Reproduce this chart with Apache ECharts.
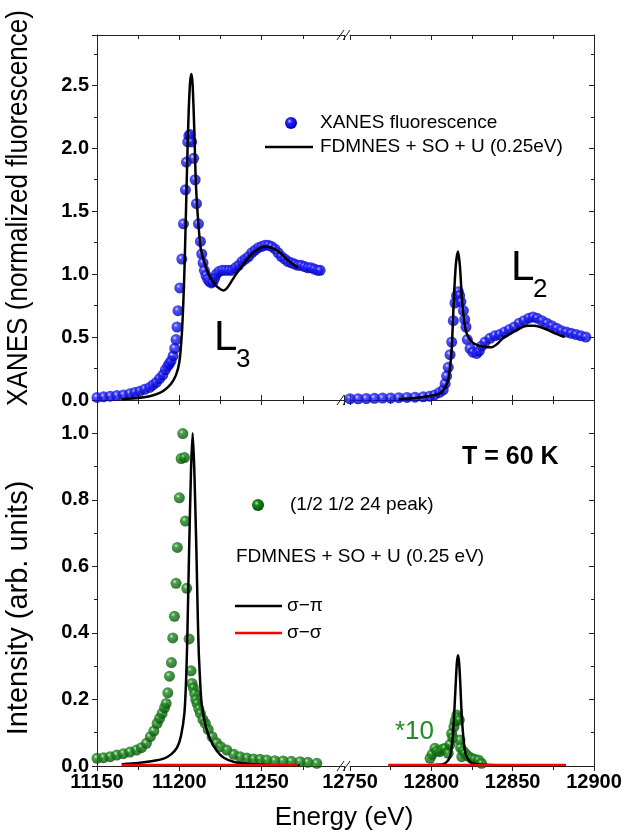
<!DOCTYPE html>
<html>
<head>
<meta charset="utf-8">
<script src="https://cdn.jsdelivr.net/npm/echarts@6/dist/echarts.min.js"></script>
<style>
  html, body { margin: 0; padding: 0; background: #fff; }
  #main { width: 633px; height: 834px; }
</style>
</head>
<body>
<div id="main"></div>
<script>
// ---- data: [energy (eV), value] ----
var xanesL3 = [
  [11150,0.02],[11154,0.025],[11158,0.03],[11162,0.035],[11166,0.04],[11170,0.05],[11173,0.06],
  [11176,0.07],[11179,0.085],[11182,0.10],[11184,0.12],[11186,0.14],[11188,0.17],[11190,0.20],
  [11191.5,0.24],[11193,0.27],[11194,0.29],[11195,0.31],[11196.2,0.35],[11197.2,0.41],[11198,0.48],
  [11198.6,0.58],[11199.2,0.71],[11200.3,0.89],[11201.5,1.12],[11202.5,1.40],[11203.7,1.67],
  [11204.3,1.89],[11205.1,2.05],[11205.8,2.10],[11206.5,2.11],[11207.5,2.05],[11208.7,1.92],
  [11209.6,1.75],[11210.4,1.56],[11211.6,1.40],[11212.8,1.26],[11213.6,1.16],[11214.4,1.09],
  [11215.2,1.03],[11216.2,0.99],[11217.2,0.96],[11218.3,0.94],[11219.5,0.93],[11220.5,0.94],
  [11221.5,0.97],[11222.5,1.00],[11224,1.02],[11226,1.03],[11228,1.03],[11230,1.03],[11232,1.03],
  [11234,1.05],[11236,1.07],[11238,1.10],[11240,1.12],[11242,1.14],[11244,1.17],[11246,1.19],
  [11248,1.21],[11250,1.22],[11252,1.23],[11254,1.23],[11256,1.22],[11258,1.20],[11260,1.17],
  [11262,1.14],[11264,1.12],[11266,1.10],[11268,1.09],[11270,1.08],[11272,1.07],[11274,1.07],
  [11276,1.06],[11278,1.05],[11280,1.05],[11282,1.04],[11284,1.03],[11285.5,1.03]
];
var fdmnesL3 = [
  [11165,0.005],[11175,0.015],[11182,0.03],[11187,0.05],[11191,0.08],[11195,0.13],[11198,0.20],
  [11200,0.30],[11201.5,0.52],[11202.5,0.80],[11203.3,1.12],[11204.3,1.64],[11205,2.00],
  [11205.7,2.30],[11206.5,2.52],[11207.3,2.59],[11208,2.52],[11208.7,2.30],[11209.3,2.05],
  [11209.9,1.77],[11210.6,1.58],[11211.4,1.43],[11212.8,1.22],[11214.8,1.11],[11217.8,1.00],
  [11220.5,0.94],[11222.9,0.90],[11225,0.88],[11226.8,0.87],[11229,0.89],[11232,0.95],
  [11235,1.01],[11239,1.08],[11243,1.15],[11248,1.20],[11252,1.22],[11256,1.21],[11259,1.19],
  [11262,1.16],[11265,1.12],[11268,1.09],[11272,1.05]
];
var xanesL2 = [
  [12750,0.01],[12755,0.01],[12760,0.012],[12765,0.013],[12770,0.015],[12775,0.016],[12780,0.018],
  [12785,0.02],[12790,0.022],[12795,0.025],[12799,0.03],[12802,0.04],[12805,0.06],[12807.3,0.08],
  [12808.5,0.13],[12809.4,0.19],[12810.4,0.26],[12811.5,0.36],[12812.5,0.46],[12813.5,0.63],
  [12814.5,0.77],[12815.5,0.83],[12816.6,0.86],[12817.4,0.83],[12818.2,0.78],[12819.7,0.71],
  [12820.5,0.64],[12821.3,0.58],[12822.1,0.48],[12823.8,0.41],[12825.5,0.38],[12827.9,0.37],
  [12829.5,0.39],[12831,0.43],[12833,0.46],[12836,0.49],[12839,0.51],[12842,0.52],[12845,0.54],
  [12848,0.56],[12851,0.58],[12854,0.61],[12857,0.63],[12860,0.65],[12862.5,0.66],[12865,0.65],
  [12868,0.63],[12871,0.61],[12874,0.59],[12877,0.57],[12880,0.55],[12883,0.54],[12886,0.53],
  [12889,0.52],[12892,0.51],[12895,0.50]
];
var fdmnesL2 = [
  [12780,0.005],[12790,0.015],[12798,0.03],[12805,0.05],[12808.5,0.10],[12810.4,0.16],
  [12811.5,0.26],[12812.5,0.40],[12813.2,0.60],[12813.9,0.82],[12815.1,1.08],[12816.4,1.18],
  [12817.6,1.06],[12819,0.77],[12820.7,0.58],[12822,0.52],[12823.8,0.48],[12826,0.45],
  [12829.9,0.43],[12834,0.42],[12837.1,0.42],[12840,0.44],[12844,0.49],[12849,0.53],
  [12854.5,0.57],[12859,0.59],[12863,0.59],[12867,0.58],[12871,0.56],[12876,0.53],[12882,0.50]
];
var peakL3 = [
  [11150,0.023],[11154,0.025],[11158,0.028],[11162,0.033],[11166,0.037],[11170,0.042],[11174,0.048],
  [11177,0.055],[11180,0.068],[11182.4,0.088],[11184.5,0.105],[11186.5,0.128],[11188,0.143],
  [11189.5,0.158],[11191,0.175],[11192,0.188],[11193,0.22],[11194,0.27],[11195.2,0.311],
  [11196,0.385],[11197,0.45],[11198,0.549],[11198.8,0.657],[11200,0.806],[11201.1,0.924],
  [11202.1,0.999],[11203.1,0.927],[11203.7,0.736],[11204.5,0.534],[11205.9,0.382],[11207.1,0.286],
  [11207.7,0.248],[11208.5,0.235],[11209.3,0.218],[11210,0.20],[11210.8,0.188],[11211.8,0.172],
  [11212.8,0.158],[11214.3,0.14],[11215.8,0.128],[11217.5,0.11],[11219.9,0.088],[11222.5,0.07],
  [11225,0.058],[11228.8,0.048],[11233,0.035],[11236.9,0.028],[11241,0.024],[11245,0.021],
  [11249,0.02],[11253,0.018],[11258,0.016],[11263,0.015],[11268,0.014],[11273.4,0.013],
  [11278,0.011],[11283.5,0.008]
];
var sigmaPiL3 = [
  [11165,0.005],[11175,0.009],[11183,0.014],[11190.5,0.022],[11195,0.035],[11198.6,0.055],
  [11201,0.09],[11203.1,0.16],[11204.2,0.27],[11204.9,0.40],[11205.9,0.64],[11207.1,0.89],
  [11208.1,1.0],[11209.1,0.89],[11210.4,0.64],[11211.2,0.45],[11211.8,0.34],[11213,0.22],
  [11213.8,0.178],[11216,0.12],[11218.9,0.078],[11222.8,0.045],[11227,0.025],[11232.9,0.013],
  [11243,0.006],[11255,0.003],[11273,0.002]
];
var sigmaSigmaL3 = [[11165,0.003],[11190,0.003],[11210,0.003],[11230,0.003],[11250,0.003],[11272,0.003]];
var peakL2x10 = [
  [12799.2,0.023],[12800.5,0.035],[12802.2,0.053],[12803.5,0.045],[12805.3,0.043],[12806.8,0.05],
  [12808.4,0.053],[12810.4,0.038],[12811.5,0.065],[12812.5,0.098],[12813.2,0.085],[12813.9,0.118],
  [12814.6,0.135],[12815.6,0.153],[12816.4,0.145],[12817.2,0.138],[12817.6,0.078],[12818,0.055],
  [12818.7,0.028],[12819.5,0.045],[12820.7,0.038],[12822.5,0.03],[12824.8,0.023],[12826.5,0.02],
  [12828.9,0.018],[12830.9,0.008]
];
var sigmaPiL2 = [
  [12775,0.001],[12790,0.002],[12800,0.003],[12807.3,0.005],[12810,0.015],[12811.5,0.028],
  [12812.6,0.06],[12813.5,0.108],[12814.3,0.18],[12815,0.248],[12815.7,0.31],[12816.4,0.333],
  [12817.1,0.31],[12817.8,0.248],[12818.5,0.17],[12819.3,0.108],[12820.5,0.05],[12821.7,0.028],
  [12824,0.012],[12827.9,0.005],[12840,0.002],[12860,0.001],[12882,0.001]
];
var sigmaSigmaL2 = [[12773.5,0.003],[12800,0.003],[12830,0.003],[12860,0.003],[12882.8,0.003]];

var xLeft = [11150, 11300];
var xRight = [12750, 12900];

var FONT = 'Liberation Sans, Arial, sans-serif';
var AX = '#222';

function ball(c1, c2, c3) {
    return {
        type: 'radial', x: 0.38, y: 0.35, r: 0.62,
        colorStops: [{offset: 0, color: c1}, {offset: 0.3, color: c2}, {offset: 1, color: c3}]
    };
}
var blueBall = ball('#d0d0ff', '#2424ff', '#0000b4');
var greenBall = ball('#c8e8c8', '#1c8a1c', '#085208');

function xAx(grid, range, pos, labels) {
    return {
        type: 'value', gridIndex: grid, position: pos, min: range[0], max: range[1], interval: 50,
        axisLine: {show: true, onZero: false, lineStyle: {color: AX, width: 1}},
        axisTick: {show: true, inside: !labels, length: 5, lineStyle: {color: AX}},
        minorTick: {show: true, splitNumber: 2, length: 4, lineStyle: {color: AX}},
        splitLine: {show: false},
        axisLabel: {show: labels, showMaxLabel: range[0] != 11150, color: '#000', fontFamily: FONT,
            fontWeight: 'bold', fontSize: 20, margin: 6,
            formatter: function (v) { return String(v); }}
    };
}
function yAx(grid, max, interval, pos, labels) {
    return {
        type: 'value', gridIndex: grid, position: pos, min: 0, max: max, interval: interval,
        axisLine: {show: true, lineStyle: {color: AX, width: 1}},
        axisTick: {show: true, inside: !labels, length: 5, lineStyle: {color: AX}},
        minorTick: {show: true, splitNumber: 2, length: 3, lineStyle: {color: AX}},
        splitLine: {show: false},
        axisLabel: {show: labels, showMaxLabel: false, color: '#000', fontFamily: FONT,
            fontWeight: 'bold', fontSize: 20, margin: 8,
            formatter: function (v) { return v.toFixed(1); }}
    };
}

function breakMark(y) {
    return [
        {type: 'line', shape: {x1: 337, y1: y + 5, x2: 344, y2: y - 5}, style: {stroke: AX, lineWidth: 1}},
        {type: 'line', shape: {x1: 343, y1: y + 5, x2: 350, y2: y - 5}, style: {stroke: AX, lineWidth: 1}}
    ];
}
function txt(x, y, s, size, opts) {
    var st = {text: s, x: x, y: y, fill: '#000', font: size + 'px ' + FONT, verticalAlign: 'middle', align: 'left'};
    for (var k in opts) st[k] = opts[k];
    return {type: 'text', z: 20, style: st};
}

var graphics = [].concat(
    breakMark(35), breakMark(400), breakMark(766),
    [
        {type: 'circle', z: 20, shape: {cx: 291, cy: 123, r: 6}, style: {fill: blueBall}},
        txt(320, 123, 'XANES fluorescence', 19),
        {type: 'line', z: 20, shape: {x1: 265, y1: 147, x2: 313, y2: 147}, style: {stroke: '#000', lineWidth: 2.5}},
        txt(320, 147, 'FDMNES + SO + U (0.25eV)', 19),
        txt(214, 338, 'L', 42),
        txt(236, 360, '3', 26),
        txt(511, 268, 'L', 42),
        txt(533, 290, '2', 26),
        txt(462, 457, 'T = 60 K', 25, {font: 'bold 25px ' + FONT}),
        {type: 'circle', z: 20, shape: {cx: 258, cy: 505, r: 6}, style: {fill: greenBall}},
        txt(290, 505, '(1/2 1/2 24 peak)', 19),
        txt(236, 557, 'FDMNES + SO + U (0.25 eV)', 19),
        {type: 'line', z: 20, shape: {x1: 235, y1: 606, x2: 282, y2: 606}, style: {stroke: '#000', lineWidth: 2.5}},
        txt(287, 606, 'σ−π', 19),
        {type: 'line', z: 20, shape: {x1: 235, y1: 633, x2: 282, y2: 633}, style: {stroke: '#ff0000', lineWidth: 2.5}},
        txt(287, 633, 'σ−σ', 19),
        txt(395, 732, '*10', 26, {fill: '#1e8c1e'}),
        txt(344, 818, 'Energy (eV)', 26, {align: 'center'}),
        // rotated titles; the XANES one is squeezed along its length, as in the picture
        {type: 'text', z: 20, x: 19, y: 208, rotation: Math.PI / 2, scaleX: 0.9,
            style: {text: 'XANES (normalized fluorescence)', fill: '#000', font: '29px ' + FONT,
                align: 'center', verticalAlign: 'middle'}},
        {type: 'text', z: 20, x: 19, y: 608, rotation: Math.PI / 2,
            style: {text: 'Intensity (arb. units)', fill: '#000', font: '29px ' + FONT,
                align: 'center', verticalAlign: 'middle'}}
    ]
);

function dots(data, xi, yi, color) {
    return {type: 'scatter', xAxisIndex: xi, yAxisIndex: yi, data: data, symbol: 'circle', symbolSize: 11,
        itemStyle: {color: color}, silent: true};
}
function curve(data, xi, yi, color, w) {
    return {type: 'line', xAxisIndex: xi, yAxisIndex: yi, data: data, showSymbol: false, smooth: 0.2,
        lineStyle: {color: color, width: w}, silent: true};
}

var option = {
    backgroundColor: '#FFFFFF',
    animation: false,
    grid: [
        {left: 97, top: 35, width: 247, height: 365},
        {left: 350, top: 35, width: 244, height: 365},
        {left: 97, top: 400, width: 247, height: 366},
        {left: 350, top: 400, width: 244, height: 366}
    ],
    xAxis: [
        xAx(0, xLeft, 'bottom', false), xAx(0, xLeft, 'top', false),
        xAx(1, xRight, 'bottom', false), xAx(1, xRight, 'top', false),
        xAx(2, xLeft, 'bottom', true), xAx(2, xLeft, 'top', false),
        xAx(3, xRight, 'bottom', true), xAx(3, xRight, 'top', false)
    ],
    yAxis: [
        yAx(0, 2.9, 0.5, 'left', true),
        yAx(1, 2.9, 0.5, 'right', false),
        yAx(2, 1.1, 0.2, 'left', true),
        yAx(3, 1.1, 0.2, 'right', false)
    ],
    graphic: graphics,
    series: [
        dots(xanesL3, 0, 0, blueBall),
        curve(fdmnesL3, 0, 0, '#000', 2.5),
        dots(xanesL2, 2, 1, blueBall),
        curve(fdmnesL2, 2, 1, '#000', 2.5),
        dots(peakL3, 4, 2, greenBall),
        curve(sigmaPiL3, 4, 2, '#000', 2.5),
        curve(sigmaSigmaL3, 4, 2, '#ff0000', 2.5),
        dots(peakL2x10, 6, 3, greenBall),
        curve(sigmaPiL2, 6, 3, '#000', 2.5),
        curve(sigmaSigmaL2, 6, 3, '#ff0000', 2.5)
    ]
};

var myChart = echarts.init(document.getElementById('main'));
myChart.setOption(option);
window.addEventListener("resize", function () {
    myChart.resize();
});
</script>
</body>
</html>
